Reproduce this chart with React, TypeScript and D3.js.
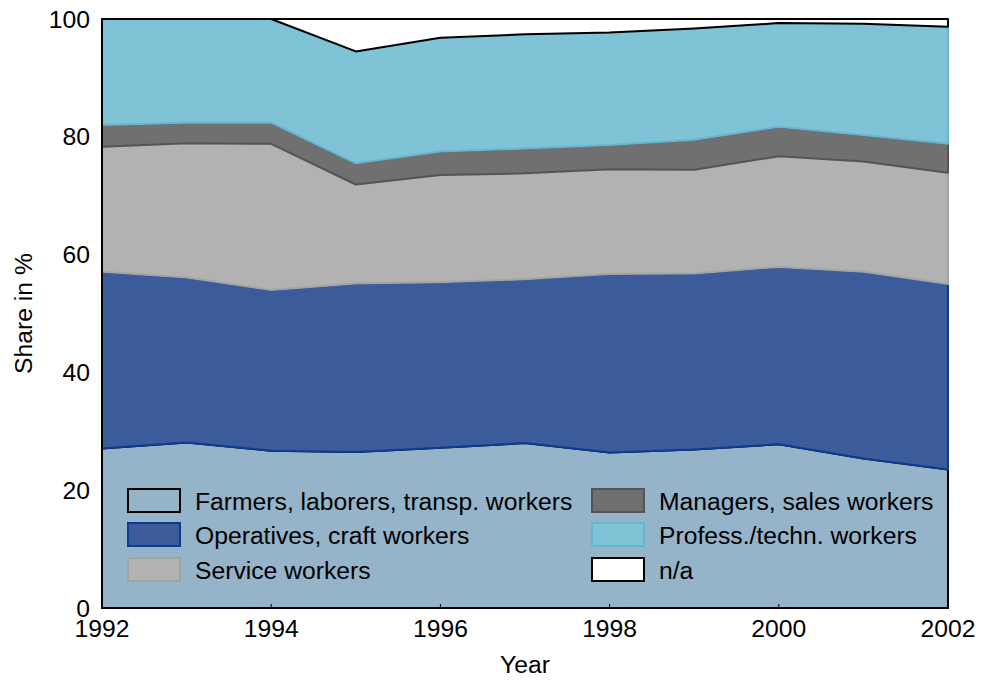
import React from "react";
import * as d3 from "d3";

const years = [1992, 1993, 1994, 1995, 1996, 1997, 1998, 1999, 2000, 2001, 2002];
const farmers = [27.1, 28.1, 26.7, 26.5, 27.2, 28.0, 26.4, 26.9, 27.8, 25.4, 23.5];
const operatives = [30.0, 28.0, 27.3, 28.6, 28.1, 27.8, 30.3, 29.9, 30.1, 31.7, 31.5];
const service = [21.2, 22.8, 24.8, 16.8, 18.2, 18.0, 17.8, 17.6, 18.8, 18.7, 18.9];
const managers = [3.7, 3.5, 3.6, 3.6, 4.0, 4.2, 4.1, 5.1, 5.0, 4.5, 4.9];
const profess = [18.0, 17.6, 17.6, 19.0, 19.3, 19.4, 19.1, 18.9, 17.6, 18.9, 19.9];
const na = [0, 0, 0, 5.5, 3.2, 2.6, 2.3, 1.6, 0.7, 0.8, 1.3];

const seriesNames = [
  "Farmers, laborers, transp. workers",
  "Operatives, craft workers",
  "Service workers",
  "Managers, sales workers",
  "Profess./techn. workers",
  "n/a",
];
const seriesValues = [farmers, operatives, service, managers, profess, na];
const fills = ["#95b3c9", "#3c5b9b", "#b2b2b2", "#707070", "#80c2d6", "#ffffff"];
const strokes = ["#000000", "#0d3b8f", "#a3a3a3", "#555555", "#66b6cf", "#000000"];

const xTicks = [1992, 1994, 1996, 1998, 2000, 2002];
const yTicks = [0, 20, 40, 60, 80, 100];

const FONT = "'Liberation Sans', Arial, Helvetica, sans-serif";
const FS = 24.7;

export default function App() {
  const width = 981;
  const height = 680;
  const left = 102, right = 948, top = 19, bottom = 608;

  const x = d3.scaleLinear().domain([1992, 2002]).range([left, right]);
  const y = d3.scaleLinear().domain([0, 100]).range([bottom, top]);

  const table = years.map((yr, i) => {
    const row: any = { year: yr };
    seriesNames.forEach((n, k) => (row[n] = seriesValues[k][i]));
    return row;
  });
  const stacked = d3.stack<any>().keys(seriesNames)(table);
  const area = d3
    .area<any>()
    .x((d) => x(d.data.year))
    .y0((d) => y(d[0]))
    .y1((d) => y(d[1]));

  const legendCols = [128, 592];
  const legendRows = [501, 535, 570];

  return (
    <div style={{ position: "absolute", left: 0, top: 0 }}>
      <svg width={width} height={height} style={{ display: "block" }}>
        <rect x={0} y={0} width={width} height={height} fill="#ffffff" />
        {stacked.map((s, k) => (
          <path
            key={k}
            d={area(s) || ""}
            fill={fills[k]}
            stroke={strokes[k]}
            strokeWidth={2}
            strokeLinejoin="round"
          />
        ))}
        {/* axes */}
        <line x1={left} x2={left} y1={top - 1} y2={bottom + 1} stroke="#000" strokeWidth={2} />
        <line x1={left - 1} x2={right + 1} y1={bottom} y2={bottom} stroke="#000" strokeWidth={2} />
        {xTicks.map((t) => (
          <g key={t}>
            <line x1={x(t)} x2={x(t)} y1={bottom} y2={bottom - 4} stroke="#000" strokeWidth={1} />
            <text
              x={x(t)}
              y={637}
              textAnchor="middle"
              fontFamily={FONT}
              fontSize={FS}
              fill="#000"
            >
              {t}
            </text>
          </g>
        ))}
        {yTicks.map((t) => (
          <text
            key={t}
            x={90}
            y={y(t) + 8.5}
            textAnchor="end"
            fontFamily={FONT}
            fontSize={FS}
            fill="#000"
          >
            {t}
          </text>
        ))}
        <text x={(left + right) / 2} y={673} textAnchor="middle" fontFamily={FONT} fontSize={FS}>
          Year
        </text>
        <text
          transform={`translate(32, ${(top + bottom) / 2}) rotate(-90)`}
          textAnchor="middle"
          fontFamily={FONT}
          fontSize={FS}
        >
          Share in %
        </text>
        {/* legend */}
        {seriesNames.map((n, k) => {
          const cx = legendCols[Math.floor(k / 3)];
          const cy = legendRows[k % 3];
          return (
            <g key={n}>
              <rect
                x={cx}
                y={cy - 12}
                width={52}
                height={23}
                fill={fills[k]}
                stroke={strokes[k]}
                strokeWidth={2}
              />
              <text x={cx + 67} y={cy + 9} fontFamily={FONT} fontSize={FS} fill="#000">
                {n}
              </text>
            </g>
          );
        })}
      </svg>
    </div>
  );
}
